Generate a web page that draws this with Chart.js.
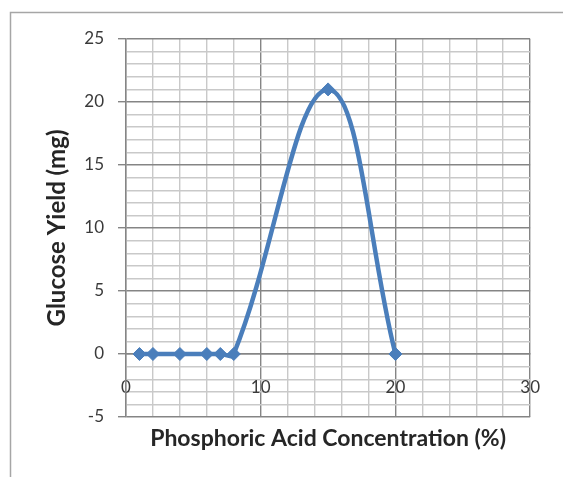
<!DOCTYPE html>
<html>
<head>
<meta charset="utf-8">
<script src="https://cdn.jsdelivr.net/npm/chart.js@4/dist/chart.umd.min.js"></script>
<style>
  html, body { margin: 0; padding: 0; background: #ffffff; }
  #wrap { width: 563px; height: 477px; }
</style>
</head>
<body>
<div id="wrap"><canvas id="c" width="563" height="477"></canvas></div>
<script>
// Data
const concentrations = [1, 2, 4, 6, 7, 8, 15, 20];
const glucoseYield   = [0, 0, 0, 0, 0, 0, 21, 0];
const xTickLabels = [0, 10, 20, 30];
const yTickLabels = [-5, 0, 5, 10, 15, 20, 25];
const xTitle = 'Phosphoric Acid Concentration (%)';
const yTitle = 'Glucose Yield (mg)';

const points = concentrations.map((x, i) => ({ x: x, y: glucoseYield[i] }));

const MAJOR = '#858585';
const MINOR = '#c9c9c9';
const BLUE = '#4A7EBB';
const FONT = 'Lato, "Open Sans", "DejaVu Sans", sans-serif';

const frame = {
  id: 'frame',
  beforeDraw(chart) {
    const ctx = chart.ctx;
    ctx.save();
    ctx.fillStyle = '#ffffff';
    ctx.fillRect(0, 0, chart.width, chart.height);
    ctx.strokeStyle = '#a6a6a6';
    ctx.lineWidth = 1.5;
    ctx.strokeRect(10.5, 12.5, 700, 700);
    ctx.restore();
  }
};

new Chart(document.getElementById('c'), {
  type: 'scatter',
  data: {
    datasets: [{
      data: points,
      showLine: true,
      borderColor: BLUE,
      backgroundColor: BLUE,
      borderWidth: 4.5,
      tension: 0.4,
      pointStyle: 'rectRot',
      pointRadius: 6.5,
      pointBorderWidth: 1,
      pointBorderColor: BLUE,
      pointBackgroundColor: BLUE,
      clip: false
    }]
  },
  options: {
    responsive: false,
    animation: false,
    devicePixelRatio: 1,
    layout: { padding: { left: 0, top: 39, right: 30, bottom: 60 } },
    plugins: { legend: { display: false }, tooltip: { enabled: false } },
    scales: {
      x: {
        type: 'linear',
        position: { y: 0 },
        min: 0, max: 30,
        afterFit(scale) { scale.height = 98; },
        ticks: {
          stepSize: 2,
          autoSkip: false,
          maxRotation: 0,
          padding: 23,
          color: '#3a3a3a',
          font: { family: FONT, size: 17 },
          callback: (v) => xTickLabels.includes(v) ? String(v) : ''
        },
        grid: {
          drawTicks: false,
          color: (c) => (c.tick && xTickLabels.includes(c.tick.value)) ? MAJOR : MINOR,
          lineWidth: 1.4
        },
        border: { display: true, color: MAJOR, width: 1.4 },
        title: {
          display: true,
          text: xTitle,
          color: '#262626',
          padding: 0,
          font: { family: FONT, size: 23, weight: 'bold' }
        }
      },
      y: {
        type: 'linear',
        position: 'left',
        min: -5, max: 25,
        afterFit(scale) { scale.width = 126; },
        ticks: {
          stepSize: 1,
          autoSkip: false,
          padding: 14,
          color: '#3a3a3a',
          font: { family: FONT, size: 17 },
          callback: (v) => yTickLabels.includes(v) ? String(v) : ''
        },
        grid: {
          tickLength: 8,
          color: (c) => (c.tick && yTickLabels.includes(c.tick.value)) ? MAJOR : MINOR,
          tickColor: (c) => (c.tick && yTickLabels.includes(c.tick.value)) ? MAJOR : 'rgba(0,0,0,0)',
          lineWidth: 1.4
        },
        border: { display: true, color: MAJOR, width: 1.4 },
        title: {
          display: true,
          text: yTitle,
          color: '#262626',
          padding: { top: 43, bottom: 0 },
          font: { family: FONT, size: 24, weight: 'bold' }
        }
      }
    }
  },
  plugins: [frame]
});
</script>
</body>
</html>
